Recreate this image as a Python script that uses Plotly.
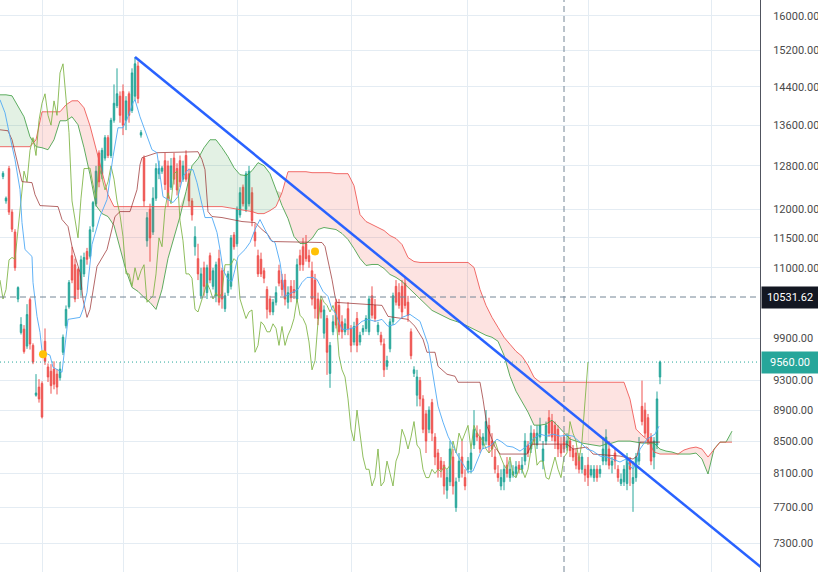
import math
import plotly.graph_objects as go

# ---------------- candles (one per bar index) ----------------
opens = [
    12600, 12150, 12750, 11950, 11600, 10500, 9990, 10040, 9790, 10490,
    9800, 9100, 9210, 9260, 9860, 9490, 9430, 9460, 9390, 9340,
    9700, 10090, 10380, 11200, 11050, 10970, 10650, 10900, 11270, 11190,
    11700, 12100, 13050, 12650, 12950, 13350, 13000, 13700, 14000, 14200,
    14300, 13700, 14250, 13900, 14200, 14850, 13400, 12950, 11450, 12000,
    11600, 12200, 12650, 12700, 12900, 12800, 12400, 12950, 12750, 12900,
    12550, 13000, 12650, 12150, 11350, 11150, 10550, 11000, 10600, 11200,
    10700, 10550, 11150, 10950, 10350, 10600, 10700, 11550, 11400, 11900,
    12400, 12000, 12100, 12300, 11600, 11200, 11140, 10950, 10650, 10500,
    10300, 10450, 10950, 10800, 10800, 10450, 10700, 10650, 10500, 11200,
    11350, 11400, 11200, 10950, 10800, 10500, 10480, 9980, 10200, 9400,
    10000, 10450, 10400, 10150, 10000, 10350, 10050, 9850, 10200, 9850,
    10000, 10050, 10000, 10550, 10400, 10000, 9950, 9820, 9500, 9750,
    10150, 10700, 10600, 10700, 10750, 10450, 10000, 9400, 9100, 9300,
    9050, 8850, 8650, 9000, 8550, 8350, 8250, 8200, 7900, 8000,
    8300, 7700, 8050, 8300, 8050, 8150, 8150, 8450, 8600, 8550,
    8450, 8500, 8700, 8500, 8300, 8100, 7950, 8000, 8200, 8050,
    8080, 8100, 8200, 8150, 8250, 8450, 8400, 8600, 8450, 8550,
    8250, 8500, 8800, 8750, 8700, 8650, 8450, 8550, 8420, 8500,
    8400, 8350, 8300, 8150, 8150, 8200, 8080, 8050, 8150, 8100,
    8250, 8250, 8400, 8200, 8350, 8150, 7980, 8000, 7980, 8250,
    7980, 8050, 8250, 8950, 8900, 8800, 8550, 8300, 8450, 9350,
]
highs = [
    12700, 12230, 12800, 12000, 11650, 10700, 10220, 10100, 10420, 10520,
    9830, 9390, 9320, 9290, 10050, 9540, 9530, 9570, 9460, 9560,
    9960, 10400, 10800, 11350, 11150, 11000, 11200, 11250, 11330, 11700,
    12150, 12800, 13100, 13150, 13400, 13400, 13750, 14450, 14800, 14300,
    14450, 14200, 14300, 14800, 15050, 14950, 13500, 13000, 11950, 12100,
    12400, 12850, 12900, 12800, 13050, 12900, 12950, 13050, 12850, 13000,
    12900, 13100, 12750, 12200, 11700, 11400, 11000, 11100, 11050, 11250,
    11000, 11100, 11300, 11000, 10600, 10950, 11550, 11600, 12050, 12400,
    12450, 12700, 12800, 12400, 11750, 11300, 11250, 11000, 10700, 10550,
    10500, 10700, 11050, 10900, 10900, 10700, 10800, 10800, 11150, 11300,
    11500, 11550, 11300, 11100, 10900, 10600, 10500, 10400, 10250, 9850,
    10250, 10500, 10500, 10250, 10200, 10450, 10100, 10150, 10300, 10000,
    10100, 10250, 10550, 10700, 10500, 10150, 10000, 9900, 9650, 10200,
    10600, 10800, 10750, 10800, 10850, 10550, 10050, 9500, 9450, 9350,
    9100, 8900, 8950, 9050, 8600, 8400, 8300, 8250, 8150, 8500,
    8400, 8050, 8350, 8500, 8150, 8300, 8400, 8900, 8700, 8650,
    8600, 8900, 8800, 8600, 8400, 8200, 8150, 8200, 8300, 8250,
    8200, 8250, 8250, 8300, 8600, 8500, 8700, 8650, 8700, 8800,
    8500, 8750, 8900, 8850, 8750, 8700, 8550, 8600, 8600, 8550,
    8450, 8400, 8350, 8350, 8200, 8300, 8200, 8200, 8200, 8200,
    8550, 8650, 8500, 8300, 8400, 8200, 8100, 8200, 8350, 8300,
    8250, 8350, 8550, 9300, 9000, 8850, 8600, 8550, 9150, 9580,
]
lows = [
    12550, 12100, 11900, 11600, 10950, 10450, 9960, 9680, 9750, 9740,
    9530, 9080, 9000, 8790, 9520, 9280, 9120, 9180, 9110, 9300,
    9660, 10050, 10350, 10750, 10450, 10500, 10550, 10850, 11050, 11150,
    11600, 12050, 12400, 12550, 12900, 12950, 12950, 13650, 13950, 13650,
    13400, 13500, 13650, 13850, 14100, 14050, 13350, 12050, 11350, 11100,
    11550, 12150, 12550, 12650, 12350, 12050, 12350, 12450, 12250, 12400,
    12500, 12500, 12050, 11800, 11200, 10800, 10500, 10550, 10500, 10750,
    10650, 10450, 10400, 10350, 10300, 10550, 10650, 11300, 11350, 11850,
    12050, 11950, 12050, 11700, 11350, 10850, 10850, 10750, 10200, 10250,
    10250, 10400, 10700, 10550, 10400, 10350, 10450, 10500, 10450, 10950,
    10950, 11100, 11000, 10400, 10200, 10100, 10200, 9900, 9380, 9200,
    9950, 10050, 9950, 9900, 9950, 9950, 9700, 9800, 9700, 9800,
    9950, 10000, 9950, 10200, 10150, 9950, 9800, 9350, 9450, 9700,
    10100, 10400, 10350, 10200, 10350, 10150, 9600, 9350, 8950, 8950,
    8600, 8350, 8600, 8500, 8200, 8050, 8050, 7850, 7800, 7950,
    7850, 7650, 8000, 8050, 7900, 8100, 8100, 8400, 8500, 8350,
    8400, 8450, 8350, 8300, 8100, 8000, 7900, 7900, 8050, 8000,
    8050, 8050, 8100, 8100, 8200, 8300, 8350, 8450, 8400, 8500,
    8150, 8450, 8550, 8500, 8400, 8300, 8300, 8350, 8380, 8300,
    8250, 8150, 8100, 8100, 8000, 7950, 8050, 8000, 8000, 8050,
    8200, 8200, 8150, 8100, 8150, 8000, 7950, 7950, 7900, 7950,
    7650, 8000, 8200, 8700, 8550, 8450, 8200, 8150, 8400, 9250,
]
closes = [
    12660, 12200, 11950, 11650, 11000, 10680, 10110, 9710, 10260, 9820,
    9560, 9130, 9050, 8810, 9570, 9350, 9230, 9250, 9210, 9460,
    9920, 10340, 10760, 10800, 10500, 10650, 11130, 11170, 11140, 11640,
    12120, 12700, 12500, 13100, 13350, 13000, 13700, 14050, 14250, 13800,
    13600, 14100, 13800, 14700, 14900, 14150, 13450, 12150, 11850, 11500,
    12200, 12750, 12750, 12760, 12450, 12200, 12800, 12550, 12350, 12500,
    12800, 12550, 12150, 11900, 11520, 10900, 10900, 10700, 11000, 10800,
    10950, 11050, 10450, 10500, 10550, 10900, 11500, 11350, 12000, 12300,
    12100, 12650, 12700, 11800, 11450, 10900, 10900, 10830, 10340, 10300,
    10450, 10600, 10750, 10650, 10500, 10600, 10520, 10600, 11050, 11050,
    11050, 11150, 11100, 10500, 10350, 10200, 10300, 10330, 9700, 9800,
    10150, 10100, 10000, 10000, 10120, 10050, 9800, 10080, 9800, 9950,
    10050, 10200, 10500, 10250, 10200, 10100, 9850, 9450, 9580, 10150,
    10550, 10450, 10400, 10300, 10400, 10250, 9650, 9450, 9350, 9050,
    8650, 8500, 8900, 8600, 8300, 8150, 8150, 7950, 8050, 8400,
    7950, 8000, 8250, 8100, 7950, 8250, 8350, 8650, 8550, 8400,
    8550, 8750, 8450, 8400, 8150, 8050, 8050, 8150, 8100, 8150,
    8120, 8180, 8150, 8200, 8500, 8350, 8600, 8500, 8600, 8700,
    8400, 8700, 8600, 8550, 8500, 8400, 8350, 8400, 8500, 8380,
    8300, 8200, 8150, 8300, 8080, 8050, 8150, 8150, 8050, 8150,
    8400, 8550, 8200, 8250, 8250, 8050, 8030, 8150, 8300, 8150,
    8050, 8300, 8350, 8750, 8600, 8500, 8250, 8500, 9050, 9560,
]
bar_idx = list(range(len(closes)))

# ---------------- Ichimoku lines ----------------
tenkan_x = [-1, 0.67, 2.33, 4, 5.67, 6.33, 7.33, 9.67, 10, 11.33, 12.33, 13, 15.67, 16.67,
            19.67, 20.67, 21.67, 25.67, 26.67, 28, 29.67, 32.33, 34.67, 36.67, 38.33, 40,
            41.67, 43.33, 44, 45.67, 48, 49.67, 51.33, 52.33, 53.33, 55, 56.67, 58.33, 60,
            61.67, 63.33, 64.67, 66.33, 67.33, 69.67, 71.33, 72.33, 73.33, 75, 76.33, 77.33,
            78.33, 80.67, 82.33, 84, 85.67, 87.33, 89, 90.67, 92.33, 94, 96.33, 98.33, 99.67,
            101.33, 103.33, 104.67, 106.67, 108.33, 109.67, 110.67, 113, 115, 117.33, 119.67,
            121.67, 124, 126.33, 128.33, 130.67, 133, 135.67, 139, 141.67, 143.33, 145,
            146.67, 148.33, 150, 151.67, 153.33, 155, 156.67, 158, 159.67, 162.33, 164.67,
            166.33, 168, 170, 172.33, 174.67, 176.67, 179, 181.33, 183.33, 185.67, 188, 190,
            192.33, 194.67, 196.67, 199, 201.33, 203.33, 205.67, 207.67, 209, 210, 211.33,
            212.33, 214.67, 217.33, 218.67]
tenkan_y = [14123, 13853, 13367, 12919, 12356, 11765, 11303, 11186, 10762, 10233, 9993, 9714,
            9657, 9486, 9416, 9845, 10187, 10217, 10339, 10603, 11387, 11871, 12174, 12976,
            13547, 13547, 13771, 14060, 14123, 13771, 13367, 13112, 13054, 12634, 12229,
            12174, 12120, 12229, 12597, 12728, 12728, 12485, 12048, 11853, 11853, 11592,
            11303, 10972, 10810, 10778, 10972, 11186, 11303, 11421, 11644, 11818, 11644,
            11472, 11421, 11087, 10541, 10603, 10651, 10762, 10843, 10843, 10810, 10620,
            10541, 10339, 10293, 10037, 10037, 10067, 10157, 10187, 10157, 10187, 10082,
            10112, 10217, 10263, 10157, 9816, 9360, 8953, 8742, 8562, 8436, 8312, 8214,
            8117, 8129, 8251, 8399, 8436, 8524, 8486, 8436, 8424, 8374, 8436, 8524, 8588,
            8562, 8588, 8562, 8575, 8562, 8486, 8399, 8374, 8312, 8300, 8275, 8239, 8275,
            8190, 8153, 8239, 8399, 8524, 8588, 8690]

kijun_x = [-1, 1.67, 3, 4, 5, 6.33, 9.67, 10.67, 12.33, 18.33, 19.67, 21.67, 23, 24.67,
           25.67, 26.67, 28, 29, 31.33, 34.67, 37.33, 39, 42.33, 44.67, 45.67, 46.33, 51.33,
           65, 66.33, 67.33, 68.33, 69.67, 73, 79.67, 84, 86.33, 88.33, 89.67, 106.33,
           107.33, 108.33, 109.67, 110.67, 111.33, 126.33, 128.33, 135, 137.33, 140, 141.33,
           144, 145, 148, 150.67, 151.67, 159, 160, 161.33, 163, 164, 165.67, 174.67,
           176.33, 188, 190, 194.67, 196.67, 205.67, 210, 211.33, 212.33, 219]
kijun_y = [13507, 13487, 13308, 13054, 12766, 12504, 12485, 12265, 12066, 12048, 11818,
           11696, 11354, 11087, 10924, 10494, 10217, 10339, 11021, 11303, 11871, 11959,
           11959, 12356, 12823, 12957, 13054, 13073, 12919, 12728, 11959, 11871, 11853,
           11783, 11765, 11644, 11557, 11438, 11421, 11354, 11136, 10810, 10541, 10447,
           10401, 10232, 10187, 10082, 9889, 9700, 9700, 9500, 9388, 9360, 9277, 9277,
           9046, 8690, 8524, 8424, 8337, 8337, 8461, 8461, 8399, 8424, 8337, 8312, 8275,
           8312, 8486, 8486]

cloud_x = list(range(-1, 244, 2))
span_a = [
    14228, 14228, 14207, 13997, 13771, 13367, 13171, 13151, 13112, 13308,
    13689, 13689, 13771, 13608, 13151, 12634, 12066, 11923, 11871, 11713,
    11320, 10956, 10683, 10620, 10525, 10447, 10339, 10651, 11153, 11506,
    11871, 12320, 12804, 12938, 13151, 13308, 13308, 13151, 12976, 12766,
    12634, 12615, 12709, 12862, 12804, 12653, 12338, 12066, 11835, 11523,
    11404, 11404, 11489, 11644, 11679, 11661, 11644, 11575, 11472, 11320,
    11153, 11038, 11054, 11054, 10988, 10891, 10843, 10778, 10683, 10588,
    10494, 10401, 10324, 10278, 10232, 10187, 10157, 10127, 10082, 10037,
    9993, 9948, 9919, 9860, 9657, 9360, 9154, 9006, 8873, 8703,
    8703, 8716, 8768, 8690, 8601, 8524, 8499, 8474, 8461, 8449,
    8436, 8461, 8474, 8499, 8499, 8499, 8486, 8474, 8474, 8474,
    8399, 8374, 8362, 8337, 8337, 8337, 8349, 8275, 8093, 8399,
    8486, 8486, 8626,
]
span_b = [
    13171, 13171, 13171, 13171, 13171, 13171, 13308, 13873, 13873, 13873,
    13873, 14018, 14102, 14102, 13956, 13588, 13132, 12672, 12265, 12048,
    12048, 12048, 12048, 12048, 12048, 12048, 12048, 12048, 12048, 12048,
    12048, 12048, 12048, 12048, 12048, 12048, 12048, 12048, 12030, 12012,
    11994, 11976, 11959, 11923, 11923, 11976, 12048, 12301, 12690, 12690,
    12690, 12690, 12672, 12672, 12672, 12672, 12653, 12653, 12653, 12430,
    11906, 11783, 11730, 11679, 11627, 11540, 11489, 11387, 11169, 11103,
    11087, 11087, 11087, 11087, 11087, 11087, 11087, 11087, 11087, 11005,
    10651, 10401, 10217, 10067, 9919, 9816, 9714, 9642, 9514, 9346,
    9277, 9277, 9277, 9277, 9277, 9277, 9277, 9277, 9277, 9277,
    9277, 9277, 9277, 9277, 9277, 9046, 8652, 8575, 8511, 8362,
    8337, 8337, 8337, 8337, 8387, 8411, 8424, 8399, 8300, 8399,
    8486, 8486, 8486,
]
lag = 24

# ---------------- drawings ----------------
trend_anchor_x = [44, 199]
trend_anchor_y = [15050, 8563]
cross_x = 187
cross_price = 10531.62
last_price = 9560.00
marker_x = [13.33, 104]
marker_y = [9671, 11270]
y_ticks = [16000, 15200, 14400, 13600, 12800, 12000, 11500, 11000,
           9900, 9300, 8900, 8500, 8100, 7700, 7300, 7000]
month_x = [13, 40, 78.33, 116, 154.67, 195, 236]

X_MIN, X_MAX = -1, 252.333
Y_LO, Y_HI = 6995, 16384

UP, DOWN = "#26A69A", "#EF5350"

fig = go.Figure()

# cloud fills
upper = [max(a, b) for a, b in zip(span_a, span_b)]
fig.add_trace(go.Scatter(x=cloud_x, y=span_a, mode="lines", line=dict(width=0),
                         hoverinfo="skip"))
fig.add_trace(go.Scatter(x=cloud_x, y=upper, mode="lines", line=dict(width=0),
                         fill="tonexty", fillcolor="rgba(244,67,54,0.15)", hoverinfo="skip"))
fig.add_trace(go.Scatter(x=cloud_x, y=span_b, mode="lines", line=dict(width=0),
                         hoverinfo="skip"))
fig.add_trace(go.Scatter(x=cloud_x, y=upper, mode="lines", line=dict(width=0),
                         fill="tonexty", fillcolor="rgba(67,160,71,0.15)", hoverinfo="skip"))

# candles
fig.add_trace(go.Candlestick(
    x=bar_idx, open=opens, high=highs, low=lows, close=closes,
    increasing=dict(line=dict(color=UP, width=1), fillcolor=UP),
    decreasing=dict(line=dict(color=DOWN, width=1), fillcolor=DOWN),
    whiskerwidth=0, hoverinfo="skip"))

# cloud edges
fig.add_trace(go.Scatter(x=cloud_x, y=span_a, mode="lines",
                         line=dict(color="rgba(67,160,71,0.85)", width=1)))
fig.add_trace(go.Scatter(x=cloud_x, y=span_b, mode="lines",
                         line=dict(color="rgba(239,83,80,0.85)", width=1)))

# lagging span (closes shifted back)
lag_x = [i - lag for i in bar_idx if i - lag >= -1]
lag_y = [closes[i] for i in bar_idx if i - lag >= -1]
fig.add_trace(go.Scatter(x=lag_x, y=lag_y, mode="lines",
                         line=dict(color="rgba(124,179,66,0.85)", width=1)))

# base & conversion lines
fig.add_trace(go.Scatter(x=kijun_x, y=kijun_y, mode="lines",
                         line=dict(color="rgba(150,40,40,0.7)", width=1)))
fig.add_trace(go.Scatter(x=tenkan_x, y=tenkan_y, mode="lines",
                         line=dict(color="rgba(80,170,245,0.9)", width=1)))

# price line & crosshair
fig.add_trace(go.Scatter(x=[X_MIN, X_MAX], y=[last_price, last_price], mode="lines",
                         line=dict(color=UP, width=1, dash="1px,3px")))
fig.add_trace(go.Scatter(x=[X_MIN, X_MAX], y=[cross_price, cross_price], mode="lines",
                         line=dict(color="#758696", width=1, dash="6px,4px")))
fig.add_trace(go.Scatter(x=[cross_x, cross_x], y=[Y_LO, Y_HI], mode="lines",
                         line=dict(color="#758696", width=1, dash="6px,4px")))

# trend line (extended to the right edge, straight on the log scale)
lx0, lx1 = trend_anchor_x
ly0, ly1 = math.log10(trend_anchor_y[0]), math.log10(trend_anchor_y[1])
slope = (ly1 - ly0) / (lx1 - lx0)
t_end_y = 10 ** (ly0 + slope * (X_MAX + 2 - lx0))
fig.add_trace(go.Scatter(x=[lx0, X_MAX + 2], y=[trend_anchor_y[0], t_end_y], mode="lines",
                         line=dict(color="#2962FF", width=2.5)))

# markers
fig.add_trace(go.Scatter(x=marker_x, y=marker_y, mode="markers",
                         marker=dict(color="#FFC107", size=8)))

# axis labels for crosshair & last price
for val, bg in [(cross_price, "#131722"), (last_price, UP)]:
    fig.add_annotation(x=1, xref="paper", xanchor="left", xshift=1,
                       y=math.log10(val), yref="y", yanchor="middle",
                       text=f"{val:.2f}", showarrow=False, bgcolor=bg,
                       font=dict(color="white", size=11, family="Roboto"),
                       borderpad=4, width=48, align="center")

fig.update_layout(
    width=818, height=572,
    margin=dict(l=0, r=58, t=0, b=0),
    paper_bgcolor="white", plot_bgcolor="white",
    showlegend=False, hovermode=False,
    xaxis=dict(range=[X_MIN, X_MAX], rangeslider=dict(visible=False),
               tickvals=month_x, showticklabels=False, showgrid=True,
               gridcolor="#E4ECF3", gridwidth=1, zeroline=False, showline=False,
               fixedrange=True),
    yaxis=dict(type="log", side="right",
               range=[math.log10(Y_LO), math.log10(Y_HI)],
               tickvals=y_ticks, ticktext=[f"{v:.2f}" for v in y_ticks],
               showgrid=True, gridcolor="#E4ECF3", gridwidth=1,
               showline=True, linecolor="#50535E", linewidth=1,
               ticks="", ticklabelstandoff=10, zeroline=False,
               tickfont=dict(family="Roboto", size=11, color="#4A4A4A"),
               fixedrange=True),
)

fig.write_html("out.html", config={"displayModeBar": False},
               post_script="document.body.style.margin='0';document.body.style.overflow='hidden';")
